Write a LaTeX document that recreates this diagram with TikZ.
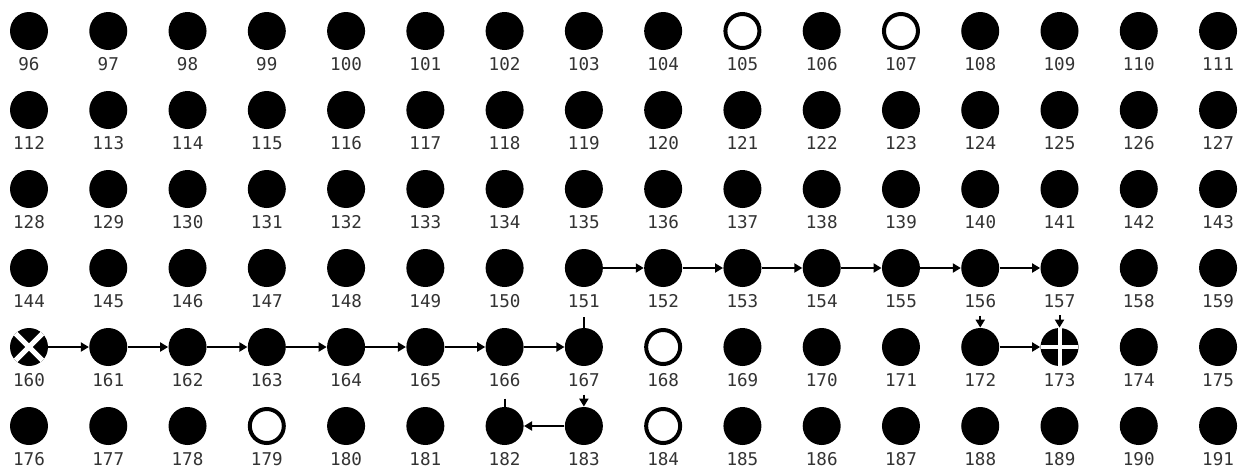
\documentclass[tikz,border=0pt]{standalone}
\usepackage{fontspec}
\setmonofont{DejaVu Sans Mono}
\usetikzlibrary{arrows.meta}

\tikzset{
  dot/.style={circle, fill=black, inner sep=0pt, minimum size=19pt},
  hole/.style={fill=white, draw=black, line width=2pt, minimum size=17pt},
  num/.style={font=\ttfamily\fontsize{8.8}{10}\selectfont, text=black!80, inner sep=0pt},
  link/.style={line width=1pt, -{Triangle[length=4pt,width=4.5pt]}},
  stub/.style={line width=1pt},
  % special markers
  startdot/.style={path picture={
    \draw[white, line width=2.5pt] (path picture bounding box.south west) -- (path picture bounding box.north east);
    \draw[white, line width=2.5pt] (path picture bounding box.north west) -- (path picture bounding box.south east);}},
  enddot/.style={path picture={
    \draw[white, line width=2pt] (path picture bounding box.west) -- (path picture bounding box.east);
    \draw[white, line width=2pt] (path picture bounding box.north) -- (path picture bounding box.south);}},
  s105/.style=hole, s107/.style=hole, s168/.style=hole, s179/.style=hole, s184/.style=hole,
  s160/.style=startdot, s173/.style=enddot,
}

\begin{document}
\begin{tikzpicture}[x=0.5pt, y=-0.5pt]
\fill[white] (0,0) rectangle (1250,468);
\useasboundingbox (0,0) rectangle (1250,468);

% Grid of cells
\foreach \r in {0,...,5}{
  \foreach \c in {0,...,15}{
    \pgfmathtruncatemacro{\k}{96+16*\r+\c}
    \node[dot, s\k/.try, label={[num, name=l\k, label distance=3.5pt]below:\k}]
      (n\k) at ({29+79.27*\c}, {31+79*\r}) {};
  }
}

% Path along the rows
\foreach \a/\b in {151/152,152/153,153/154,154/155,155/156,156/157,
                   160/161,161/162,162/163,163/164,164/165,165/166,166/167,
                   172/173,183/182}
  \draw[link] (n\a) -- (n\b);

% Steps between rows
\draw[stub, shorten <=4.5pt] (l151) -- (n167);
\draw[stub, shorten <=5.5pt] (l166) -- (n182);
\draw[link, shorten <=3.5pt] (l167) -- (n183);
\draw[link, shorten <=3.5pt] (l156) -- (n172);
\draw[link, shorten <=3.5pt] (l157) -- (n173);
\end{tikzpicture}
\end{document}
